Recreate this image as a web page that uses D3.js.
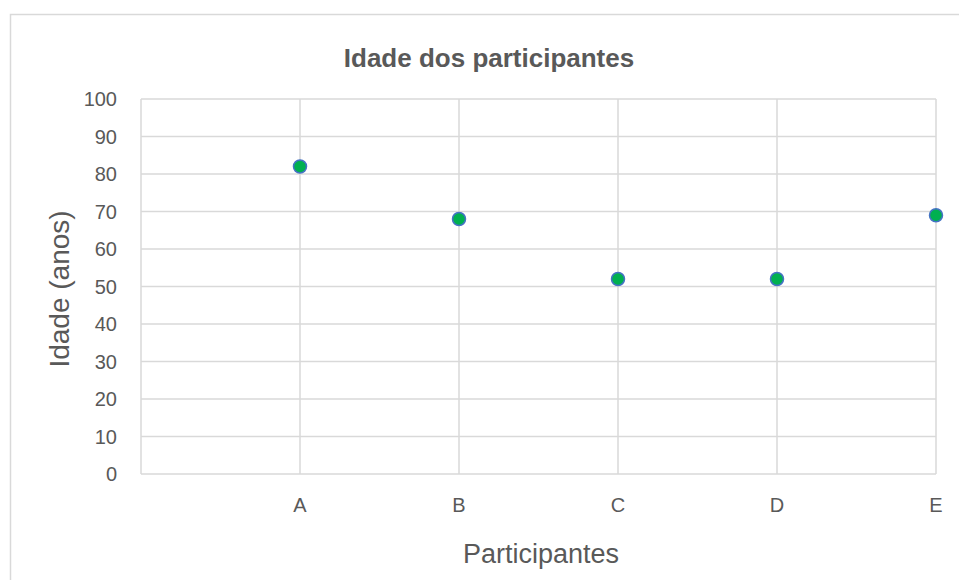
<!DOCTYPE html>
<html>
<head>
<meta charset="utf-8">
<script src="https://cdn.jsdelivr.net/npm/d3@7"></script>
<style>
  body { margin: 0; background: #fff; }
  svg { display: block; font-family: Arial, "Liberation Sans", sans-serif; }
</style>
</head>
<body>
<svg id="chart" width="959" height="580"></svg>
<script>
(function(){
  var participants = ['A', 'B', 'C', 'D', 'E']
  var ages = [82, 68, 52, 52, 69]
  var yTicks = [0, 10, 20, 30, 40, 50, 60, 70, 80, 90, 100]

  var svg = d3.select('#chart'),
      width = +svg.attr('width'),
      height = +svg.attr('height')

  var margin = {left: 141, right: 22, top: 99, bottom: 106}

  // outer chart border (runs off the picture at right and bottom)
  svg.append('rect')
    .attr('x', 10.5).attr('y', 14.5)
    .attr('width', 960).attr('height', 600)
    .attr('fill', 'none')
    .attr('stroke', '#d9d9d9').attr('stroke-width', 1.5)

  var xScale = d3.scaleLinear()
    .domain([0, participants.length])
    .range([margin.left, width - margin.right - 1])

  var yScale = d3.scaleLinear()
    .domain([0, 100])
    .range([height - margin.bottom, margin.top])

  // horizontal grid
  svg.append('g').selectAll('line')
    .data(yTicks)
    .enter().append('line')
    .attr('x1', xScale(0)).attr('x2', xScale(participants.length))
    .attr('y1', d => yScale(d)).attr('y2', d => yScale(d))
    .attr('stroke', '#d9d9d9').attr('stroke-width', 1.5)

  // vertical grid (one line per category plus the left edge)
  svg.append('g').selectAll('line')
    .data(d3.range(0, participants.length + 1))
    .enter().append('line')
    .attr('x1', d => xScale(d)).attr('x2', d => xScale(d))
    .attr('y1', yScale(0)).attr('y2', yScale(100))
    .attr('stroke', '#d9d9d9').attr('stroke-width', 1.5)

  // y tick labels
  svg.append('g').selectAll('text')
    .data(yTicks)
    .enter().append('text')
    .attr('x', 117).attr('y', d => yScale(d))
    .attr('dy', '0.35em')
    .attr('text-anchor', 'end')
    .attr('font-size', 20).attr('fill', '#595959')
    .text(d => d)

  // x tick labels
  svg.append('g').selectAll('text')
    .data(participants)
    .enter().append('text')
    .attr('x', (d, i) => xScale(i + 1))
    .attr('y', 512)
    .attr('text-anchor', 'middle')
    .attr('font-size', 20).attr('fill', '#595959')
    .text(d => d)

  // points
  svg.append('g').selectAll('circle')
    .data(ages)
    .enter().append('circle')
    .attr('cx', (d, i) => xScale(i + 1))
    .attr('cy', d => yScale(d))
    .attr('r', 6.5)
    .attr('fill', '#00b050')
    .attr('stroke', '#4472c4').attr('stroke-width', 1.5)

  // title
  svg.append('text')
    .attr('x', 489).attr('y', 67)
    .attr('text-anchor', 'middle')
    .attr('font-size', 26).attr('font-weight', 'bold')
    .attr('fill', '#595959')
    .text('Idade dos participantes')

  // axis titles
  svg.append('text')
    .attr('x', 541).attr('y', 563)
    .attr('text-anchor', 'middle')
    .attr('font-size', 27).attr('fill', '#595959')
    .text('Participantes')

  svg.append('text')
    .attr('transform', 'translate(69,' + 289 + ') rotate(-90)')
    .attr('text-anchor', 'middle')
    .attr('font-size', 28).attr('fill', '#595959')
    .text('Idade (anos)')
})()
</script>
</body>
</html>
